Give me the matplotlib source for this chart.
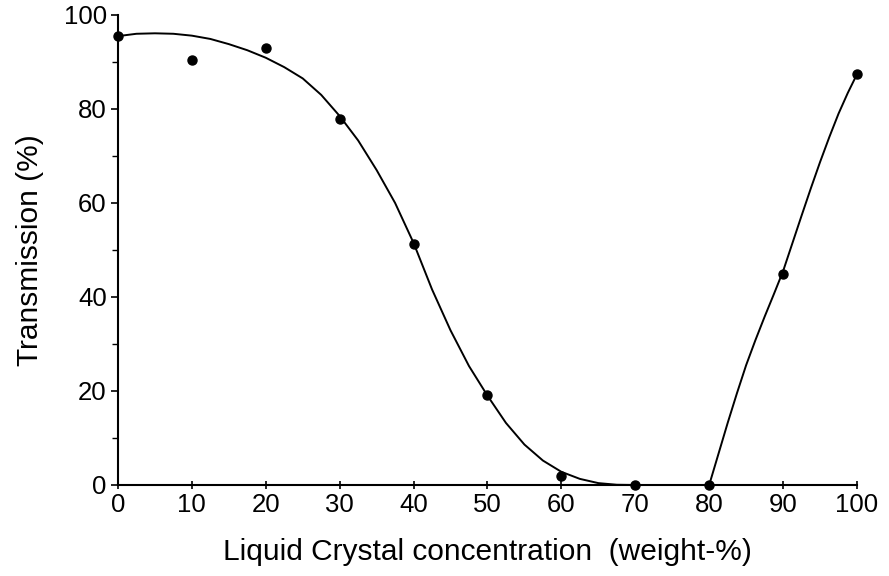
import numpy as np
import matplotlib
matplotlib.use("Agg")
import matplotlib.pyplot as plt
from matplotlib.ticker import MultipleLocator

plt.rcParams['font.family'] = ['Liberation Sans', 'DejaVu Sans']

# measured points
conc = [0, 10, 20, 30, 40, 50, 60, 70, 80, 90, 100]
trans = [95.5, 90.5, 93.0, 77.8, 51.3, 19.1, 2.0, 0.0, 0.0, 44.9, 87.4]

# fitted curve
curve_x = [0, 2.5, 5, 7.5, 10, 12.5, 15, 17.5, 20, 22.5, 25, 27.5, 30, 32.5, 35,
           37.5, 40, 42.5, 45, 47.5, 50, 52.5, 55, 57.5, 60, 62.5, 65, 67.5, 70,
           75, 80, 81.25, 82.5, 83.75, 85, 86.25, 87.5, 88.75, 90, 91.25, 92.5,
           93.75, 95, 96.25, 97.5, 98.75, 100]
curve_y = [95.5, 96.0, 96.1, 96.0, 95.6, 94.9, 93.8, 92.5, 90.9, 88.9, 86.5, 83.0, 78.5, 73.3, 67.0,
           60.0, 51.5, 41.6, 32.9, 25.3, 19.0, 13.2, 8.6, 5.2, 2.8, 1.3, 0.4, 0.05, 0.0,
           0.0, 0.0, 6.6, 13.2, 19.5, 25.5, 30.8, 35.8, 40.6, 45.5, 51.4, 57.3,
           63.1, 68.7, 74.0, 79.0, 83.4, 87.4]

fig = plt.figure(figsize=(8.89, 5.76), dpi=100)
ax = fig.add_axes([0.1327, 0.158, 0.8313, 0.816])

ax.plot(curve_x, curve_y, color='black', lw=1.4, zorder=2)
ax.plot(conc, trans, 'o', color='black', ms=6.5, zorder=3, clip_on=False)

ax.set_xlim(0, 100)
ax.set_ylim(0, 100)
ax.spines['top'].set_visible(False)
ax.spines['right'].set_visible(False)
ax.spines['left'].set_linewidth(1.5)
ax.spines['bottom'].set_linewidth(1.5)

ax.xaxis.set_major_locator(MultipleLocator(10))
ax.yaxis.set_major_locator(MultipleLocator(20))
ax.yaxis.set_minor_locator(MultipleLocator(10))
ax.tick_params(axis='x', direction='inout', length=6, width=1.2, labelsize=18.5, pad=3)
ax.tick_params(axis='y', which='major', direction='out', length=5, width=1.2, labelsize=18.5, pad=3)
ax.tick_params(axis='y', which='minor', direction='out', length=4, width=1.0)

ax.set_xlabel("Liquid Crystal concentration  (weight-%)", fontsize=21.5, labelpad=15)
ax.set_ylabel("Transmission (%)", fontsize=21.5, labelpad=14)

fig.savefig("out.png", dpi=100)
